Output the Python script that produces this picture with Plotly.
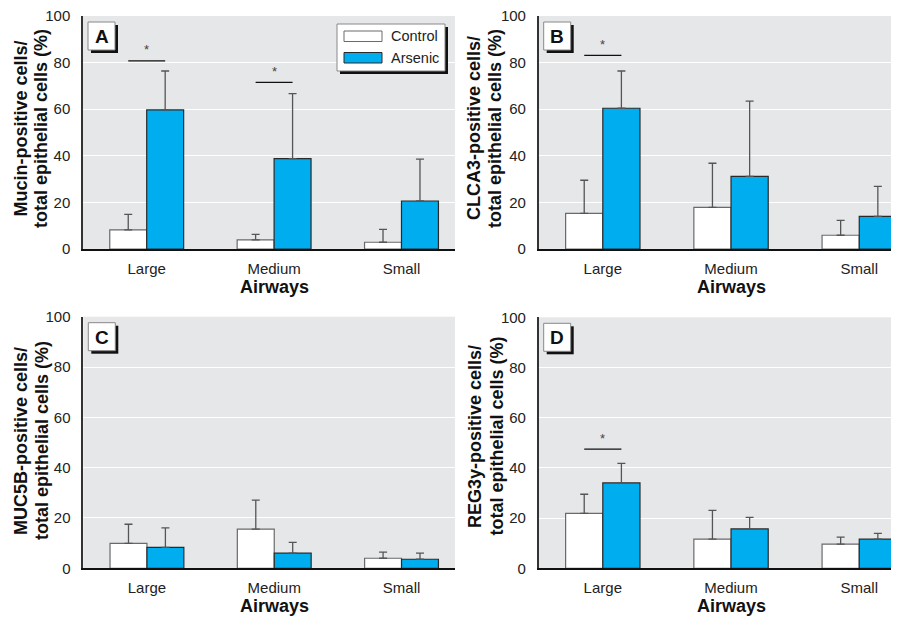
import plotly.graph_objects as go

# page has an 8px body margin; the figure fills the rest of the 899x619 window
OFF = 8
W, H = 899 - OFF, 619 - OFF

categories = ["Large", "Medium", "Small"]
groups = ["Control", "Arsenic"]
y_ticks = [0, 20, 40, 60, 80, 100]

# Panel A: Mucin
a_control = [8.2, 3.9, 2.9]
a_control_sd = [6.7, 2.4, 5.5]
a_arsenic = [59.7, 38.8, 20.6]
a_arsenic_sd = [16.7, 27.9, 18.0]
a_sig = {0: 80.7, 1: 71.5}

# Panel B: CLCA3
b_control = [15.3, 17.9, 5.9]
b_control_sd = [14.2, 18.9, 6.4]
b_arsenic = [60.4, 31.2, 14.0]
b_arsenic_sd = [16.0, 32.3, 12.9]
b_sig = {0: 83.1}

# Panel C: MUC5B
c_control = [9.9, 15.6, 4.0]
c_control_sd = [7.6, 11.5, 2.4]
c_arsenic = [8.3, 6.0, 3.6]
c_arsenic_sd = [7.8, 4.3, 2.4]
c_sig = {}

# Panel D: REG3y
d_control = [21.9, 11.6, 9.6]
d_control_sd = [7.6, 11.5, 2.8]
d_arsenic = [34.0, 15.7, 11.6]
d_arsenic_sd = [7.8, 4.6, 2.3]
d_sig = {0: 47.5}

BLUE = "#00ADEE"
BG = "#E6E7E9"
FONT = "Liberation Sans, Arial, sans-serif"


def X(p):
    return (p - OFF) / W


def Y(p):
    return 1 - (p - OFF) / H


panels = [
    dict(letter="A", ctrl=a_control, ctrl_sd=a_control_sd, ars=a_arsenic, ars_sd=a_arsenic_sd, sig=a_sig,
         line1="Mucin-positive cells/", line2="total epithelial cells (%)",
         px=(83, 455), py=(16, 249), xr=[-0.5, 2.42], t1x=20.5, t2x=41, tcy=129),
    dict(letter="B", ctrl=b_control, ctrl_sd=b_control_sd, ars=b_arsenic, ars_sd=b_arsenic_sd, sig=b_sig,
         line1="CLCA3-positive cells/", line2="total epithelial cells (%)",
         px=(538.7, 899), py=(16, 249), xr=[-0.5, 2.31], t1x=474, t2x=495, tcy=128),
    dict(letter="C", ctrl=c_control, ctrl_sd=c_control_sd, ars=c_arsenic, ars_sd=c_arsenic_sd, sig=c_sig,
         line1="MUC5B-positive cells/", line2="total epithelial cells (%)",
         px=(83.3, 455), py=(316.7, 568.3), xr=[-0.5, 2.42], t1x=21, t2x=42, tcy=441),
    dict(letter="D", ctrl=d_control, ctrl_sd=d_control_sd, ars=d_arsenic, ars_sd=d_arsenic_sd, sig=d_sig,
         line1="REG3y-positive cells/", line2="total epithelial cells (%)",
         px=(538.7, 899), py=(317.3, 568.3), xr=[-0.5, 2.31], t1x=475, t2x=496.5, tcy=436),
]

fig = go.Figure()
shapes = []
annotations = []
layout_axes = {}

for i, p in enumerate(panels):
    n = "" if i == 0 else str(i + 1)
    xa, ya = "x" + n, "y" + n
    err_style = dict(type="data", symmetric=False, color="#555555", thickness=1.3, width=4)
    fig.add_trace(go.Bar(
        x=categories, y=p["ctrl"], name=groups[0], xaxis=xa, yaxis=ya, showlegend=False,
        marker=dict(color="white", line=dict(color="#6A6A6A", width=1.2)),
        error_y=dict(array=p["ctrl_sd"], arrayminus=[0] * 3, **err_style)))
    fig.add_trace(go.Bar(
        x=categories, y=p["ars"], name=groups[1], xaxis=xa, yaxis=ya, showlegend=False,
        marker=dict(color=BLUE, line=dict(color="#2A2A2A", width=1.2)),
        error_y=dict(array=p["ars_sd"], arrayminus=[0] * 3, **err_style)))

    x0, x1 = p["px"]
    y0, y1 = p["py"]
    layout_axes["xaxis" + n] = dict(
        domain=[X(x0), min(1.0, X(x1))], range=p["xr"], anchor=ya, type="category", automargin=False,
        showgrid=False, zeroline=False, showline=True, linecolor="#111111", linewidth=1.5,
        ticks="", tickfont=dict(family=FONT, size=15, color="#222222"), ticklabelstandoff=5,
        ticklabeloverflow="allow")
    layout_axes["yaxis" + n] = dict(
        domain=[Y(y1), Y(y0)], range=[0, 100], anchor=xa, tickvals=y_ticks, automargin=False,
        showgrid=True, gridcolor="white", gridwidth=1.2, zeroline=False,
        showline=True, linecolor="#333333", linewidth=1.5, ticks="",
        tickfont=dict(family=FONT, size=15, color="#222222"), ticklabelstandoff=8,
        ticklabeloverflow="allow")

    # axis titles
    annotations.append(dict(text="<b>" + p["line1"] + "</b>", xref="paper", yref="paper",
                            x=X(p["t1x"]), y=Y(p["tcy"]), textangle=-90, showarrow=False,
                            xanchor="center", yanchor="middle",
                            font=dict(family=FONT, size=18, color="#111111")))
    annotations.append(dict(text="<b>" + p["line2"] + "</b>", xref="paper", yref="paper",
                            x=X(p["t2x"]), y=Y(p["tcy"]), textangle=-90, showarrow=False,
                            xanchor="center", yanchor="middle",
                            font=dict(family=FONT, size=18, color="#111111")))
    annotations.append(dict(text="<b>Airways</b>", xref=xa, yref="paper", x=1, y=Y(y1 + 38),
                            showarrow=False, xanchor="center", yanchor="middle",
                            font=dict(family=FONT, size=18, color="#111111")))

    # panel letter box with shadow
    bx0, by0 = x0 + 5, y0 + 6
    shapes.append(dict(type="rect", xref="paper", yref="paper", x0=X(bx0 + 3), x1=X(bx0 + 30),
                       y0=Y(by0 + 31), y1=Y(by0 + 3), fillcolor="#111111", line=dict(width=0)))
    shapes.append(dict(type="rect", xref="paper", yref="paper", x0=X(bx0), x1=X(bx0 + 27),
                       y0=Y(by0 + 28), y1=Y(by0), fillcolor="white", line=dict(color="#888888", width=1)))
    annotations.append(dict(text="<b>" + p["letter"] + "</b>", xref="paper", yref="paper",
                            x=X(bx0 + 13.5), y=Y(by0 + 14.5), showarrow=False,
                            xanchor="center", yanchor="middle",
                            font=dict(family=FONT, size=19, color="#111111")))

    # significance markers
    for idx, yv in p["sig"].items():
        shapes.append(dict(type="line", xref=xa, yref=ya, x0=idx - 0.145, x1=idx + 0.145,
                           y0=yv, y1=yv, line=dict(color="#111111", width=1.2)))
        annotations.append(dict(text="*", xref=xa, yref=ya, x=idx, y=yv, yshift=11,
                                showarrow=False, xanchor="center", yanchor="middle",
                                font=dict(family=FONT, size=13, color="#444444")))

# legend in panel A (drawn manually)
lx0, lx1, ly0, ly1 = 337, 445, 24, 71
shapes.append(dict(type="rect", xref="paper", yref="paper", x0=X(lx0 + 3), x1=X(lx1 + 3),
                   y0=Y(ly1 + 3), y1=Y(ly0 + 3), fillcolor="#111111", line=dict(width=0)))
shapes.append(dict(type="rect", xref="paper", yref="paper", x0=X(lx0), x1=X(lx1),
                   y0=Y(ly1), y1=Y(ly0), fillcolor="white", line=dict(color="#888888", width=1)))
swatch = [("white", "#6A6A6A", 31, 41.5), (BLUE, "#2A2A2A", 52.5, 63)]
for (fc, lc, sy0, sy1), g in zip(swatch, groups):
    shapes.append(dict(type="rect", xref="paper", yref="paper", x0=X(344), x1=X(382),
                       y0=Y(sy1), y1=Y(sy0), fillcolor=fc, line=dict(color=lc, width=1)))
    annotations.append(dict(text=g, xref="paper", yref="paper", x=X(389), y=Y((sy0 + sy1) / 2),
                            showarrow=False, xanchor="left", yanchor="middle",
                            font=dict(family=FONT, size=14.5, color="#222222")))

fig.update_layout(
    width=W, height=H, margin=dict(l=0, r=0, t=0, b=0),
    paper_bgcolor="white", plot_bgcolor=BG,
    barmode="group", bargap=0.42, bargroupgap=0,
    shapes=shapes, annotations=annotations, showlegend=False,
    **layout_axes)

fig.write_html("out.html")
